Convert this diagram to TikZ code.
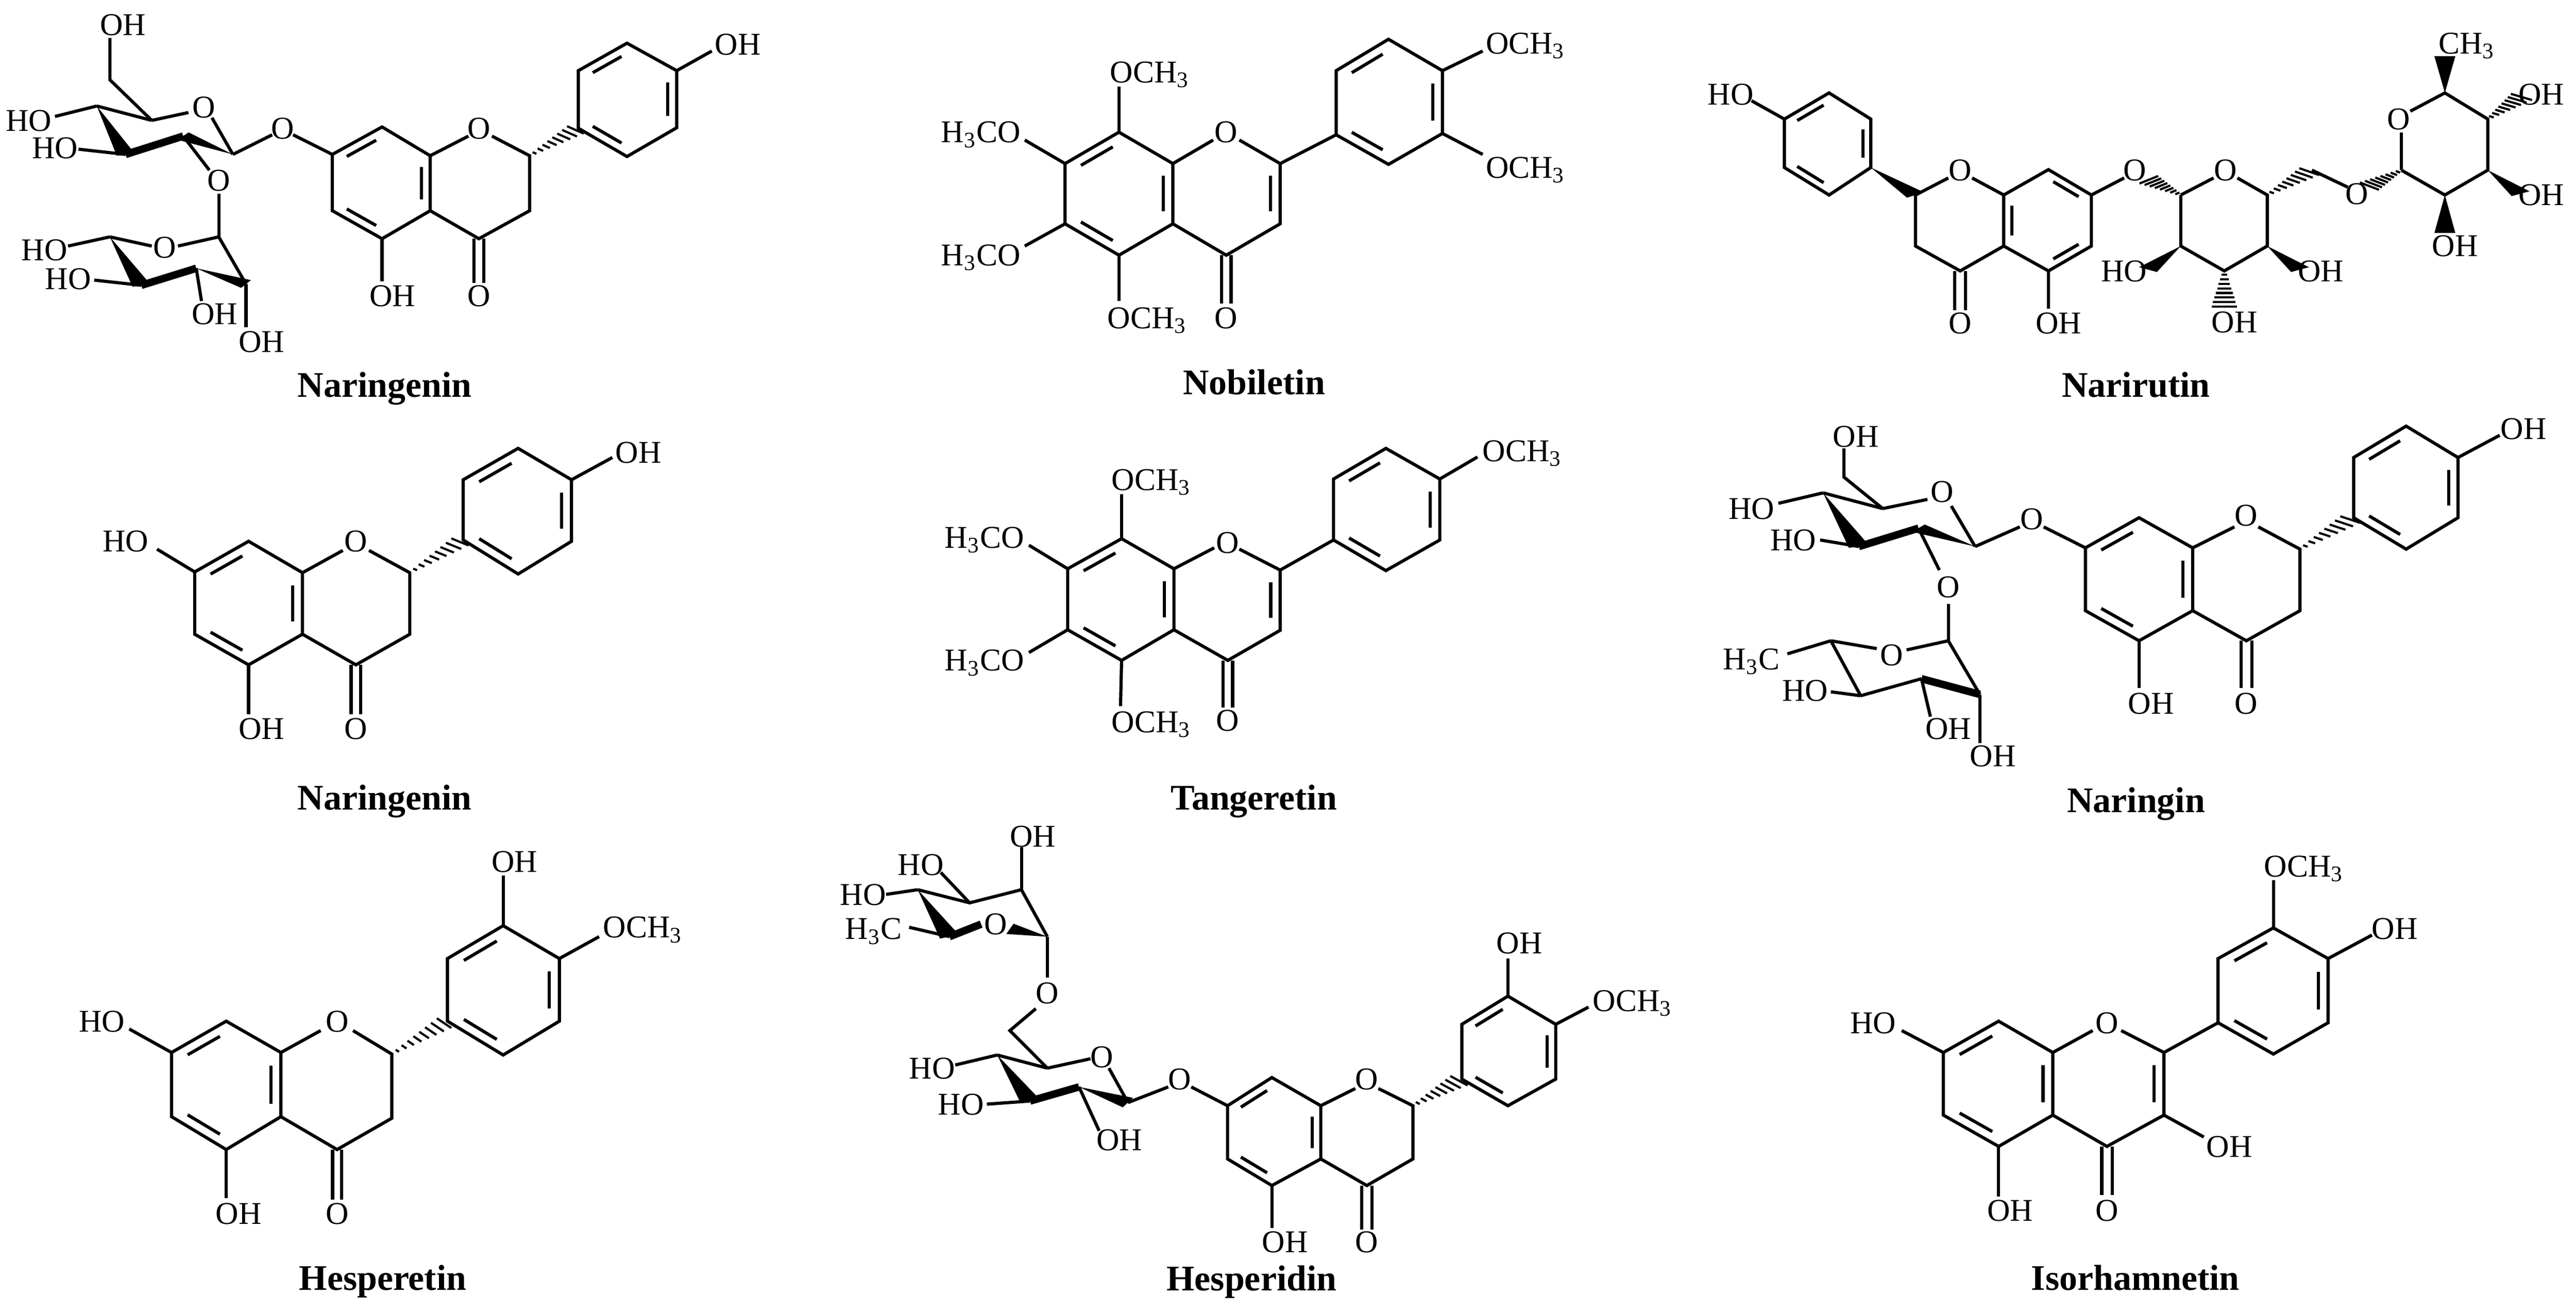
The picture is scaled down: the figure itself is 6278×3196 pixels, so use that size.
\documentclass[tikz,border=0pt]{standalone}
\usepackage{fontspec}
\setmainfont{Liberation Serif}
\usetikzlibrary{calc}
\newcommand\inl[3]{\draw ($($(#1)!0.14!(#2)$)!0.18!(#3)$) -- ($($(#1)!0.86!(#2)$)!0.18!(#3)$);}
\newcommand\hexr[7]{\draw (#1)--(#2)--(#3)--(#4)--(#5)--(#6)--cycle; \inl{#2}{#3}{#7}\inl{#4}{#5}{#7}\inl{#6}{#1}{#7}}
\newcommand\wdg[2]{\fill (#1) -- ($(#2)!2.5pt!90:(#1)$) -- ($(#2)!2.5pt!-90:(#1)$) -- cycle;}
\newcommand\dbl[2]{\draw ($(#1)!1.3pt!90:(#2)$) -- ($(#2)!1.3pt!-90:(#1)$); \draw ($(#1)!1.3pt!-90:(#2)$) -- ($(#2)!1.3pt!90:(#1)$);}
\newcommand\hashb[2]{\foreach \t [evaluate=\t as \hw using 0.4+2.8*\t] in {0.1,0.22,...,1.0}{\draw[line width=0.75pt] ($($(#1)!\t!(#2)$)!\hw pt!90:(#2)$) -- ($($(#1)!\t!(#2)$)!\hw pt!-90:(#2)$);}}
\begin{document}
\begin{tikzpicture}[x=0.005cm,y=-0.005cm,line width=1.1pt,
  lab/.style={inner sep=0pt,font=\fontsize{11}{11}\selectfont,text height=7.3pt,text depth=0pt},
  ttl/.style={inner sep=0pt,font=\fontsize{12.5}{14}\selectfont\bfseries,text height=8.4pt,text depth=0pt},
  bold/.style={line width=2.6pt}]
\useasboundingbox (0,0) rectangle (6278,3196);
\fill[white] (0,0) rectangle (6278,3196);
% ===== M1 Naringenin (glycoside) =====
\begin{scope}[shift={(0,0)},xscale=1.2755,yscale=0.6378]
\hexr{635,805}{635,590}{730,485}{822,595}{822,805}{730,912}{728,700}
\draw (822,595)--(895,520); \node[lab] (o1) at (915,490) {O};
\draw (940,520)--(1012,595)--(1012,805)--(915,912)--(822,805);
\dbl{915,912}{915,1080}; \node[lab] at (915,1130) {O};
\draw (730,912)--(730,1075); \node[lab] at (750,1130) {OH};
\draw (635,590)--(560,515); \node[lab] at (540,490) {O}; \draw (520,515)--(445,590);
\hashb{1012,595}{1105,490}
\hexr{1105,490}{1105,270}{1198,165}{1293,270}{1293,488}{1198,598}{1199,380}
\draw (1293,270)--(1360,195); \node[lab] at (1410,170) {OH};
\node[lab] at (390,410) {O}; \draw (290,460)--(360,430); \draw (405,450)--(445,590);
\wdg{445,590}{350,520} \draw[bold] (350,520)--(240,590); \wdg{185,405}{240,590}
\draw (185,405)--(290,460); \draw (290,460)--(210,305)--(210,145); \node[lab] at (235,95) {OH};
\draw (185,405)--(105,445); \node[lab] at (55,460) {HO};
\draw (240,590)--(150,570); \node[lab] at (105,565) {HO};
\draw (350,520)--(400,650); \node[lab] at (418,690) {O}; \draw (418,740)--(418,905);
\node[lab] at (315,945) {O}; \draw (418,905)--(340,940); \draw (290,940)--(210,905);
\wdg{210,905}{270,1090} \draw[bold] (270,1090)--(375,1025); \wdg{375,1025}{470,1085}
\draw (470,1085)--(418,905);
\draw (210,905)--(130,940); \node[lab] at (85,955) {HO};
\draw (270,1090)--(180,1070); \node[lab] at (130,1065) {HO};
\draw (375,1025)--(385,1150); \node[lab] at (410,1200) {OH};
\draw (470,1085)--(470,1250); \node[lab] at (500,1305) {OH};
\node[ttl] at (735,1470) {Naringenin};
\end{scope}
% ===== M2 Nobiletin =====
\begin{scope}[shift={(2000,0)},xscale=1.2755,yscale=0.6378]
\hexr{467,855}{467,625}{570,505}{673,625}{673,855}{570,975}{570,740}
\draw (673,625)--(750,535); \node[lab] at (775,505) {O};
\draw (800,535)--(878,625)--(878,855)--(775,975)--(673,855); \inl{878,625}{878,855}{775,740}
\dbl{775,975}{775,1160}; \node[lab] at (775,1215) {O};
\draw (570,975)--(570,1150); \node[lab,anchor=west] at (545,1215) {OCH\textsubscript{3}};
\draw (467,855)--(390,940); \node[lab,anchor=east] at (385,975) {H\textsubscript{3}CO};
\draw (467,625)--(390,535); \node[lab,anchor=east] at (385,505) {H\textsubscript{3}CO};
\draw (570,505)--(570,330); \node[lab,anchor=west] at (550,275) {OCH\textsubscript{3}};
\draw (878,625)--(985,515);
\hexr{985,515}{985,270}{1085,150}{1188,270}{1188,510}{1085,628}{1087,390}
\draw (1188,270)--(1265,195); \node[lab,anchor=west] at (1268,165) {OCH\textsubscript{3}};
\draw (1188,510)--(1265,590); \node[lab,anchor=west] at (1268,640) {OCH\textsubscript{3}};
\node[ttl] at (828,1460) {Nobiletin};
\end{scope}
% ===== M3 Narirutin =====
\begin{scope}[shift={(4000,0)},xscale=1.4528,yscale=0.6378]
\hexr{240,640}{240,455}{315,355}{385,455}{385,640}{315,745}{312,550}
\draw (240,455)--(185,385); \node[lab] at (150,360) {HO};
\wdg{385,640}{460,745}
\draw (460,745)--(515,680); \node[lab] at (535,650) {O}; \draw (555,680)--(608,745);
\draw (460,745)--(460,940)--(535,1035)--(608,940);
\dbl{535,1035}{535,1185}; \node[lab] at (535,1235) {O};
\hexr{608,745}{683,648}{755,745}{755,940}{683,1035}{608,940}{682,842}
\draw (683,1035)--(683,1180); \node[lab] at (700,1235) {OH};
\draw (755,745)--(810,680); \node[lab] at (828,650) {O};
\hashb{905,745}{848,683}
\draw (905,745)--(960,680); \node[lab] at (980,650) {O};
\draw (1000,680)--(1050,745)--(1050,940)--(978,1035)--(905,940)--(905,745);
\wdg{905,940}{850,1030} \node[lab] at (810,1035) {HO};
\hashb{978,1035}{978,1180} \node[lab] at (995,1230) {OH};
\wdg{1050,940}{1105,1030} \node[lab] at (1140,1035) {OH};
\hashb{1050,745}{1125,650} \draw (1125,650)--(1185,715); \node[lab] at (1200,740) {O};
\hashb{1275,650}{1218,715}
\draw (1275,650)--(1275,505); \node[lab] at (1270,455) {O};
\draw (1290,425)--(1348,355)--(1420,455)--(1420,650)--(1348,745)--(1275,650);
\wdg{1348,355}{1348,215} \node[lab,anchor=west] at (1335,165) {CH\textsubscript{3}};
\hashb{1420,455}{1480,365} \node[lab] at (1510,360) {OH};
\wdg{1420,650}{1475,740} \node[lab] at (1510,745) {OH};
\wdg{1348,745}{1348,890} \node[lab] at (1365,940) {OH};
\node[ttl] at (830,1470) {Narirutin};
\end{scope}
% ===== M4 Naringenin =====
\begin{scope}[shift={(0,1000)},xscale=1.2755,yscale=0.6378]
\hexr{372,855}{372,617}{475,500}{578,620}{578,855}{475,972}{475,737}
\draw (372,617)--(300,530); \node[lab] at (240,500) {HO};
\draw (578,620)--(655,535); \node[lab] at (680,500) {O};
\draw (705,535)--(783,620)--(783,855)--(680,972)--(578,855);
\dbl{680,972}{680,1160}; \node[lab] at (680,1215) {O};
\draw (475,972)--(475,1160); \node[lab] at (500,1215) {OH};
\hashb{783,620}{885,495}
\hexr{885,495}{885,265}{990,145}{1092,265}{1092,500}{990,625}{988,385}
\draw (1092,265)--(1170,180); \node[lab] at (1220,160) {OH};
\node[ttl] at (735,1480) {Naringenin};
\end{scope}
% ===== M5 Tangeretin =====
\begin{scope}[shift={(2000,1000)},xscale=1.2755,yscale=0.6378]
\hexr{472,838}{472,605}{575,490}{675,605}{675,838}{575,955}{575,722}
\draw (675,605)--(752,525); \node[lab] at (778,505) {O};
\draw (800,530)--(878,610)--(878,840)--(778,955)--(675,838); \inl{878,610}{878,840}{778,722}
\dbl{778,955}{778,1135}; \node[lab] at (778,1185) {O};
\draw (575,955)--(573,1130); \node[lab,anchor=west] at (553,1190) {OCH\textsubscript{3}};
\draw (472,838)--(398,925); \node[lab,anchor=east] at (392,955) {H\textsubscript{3}CO};
\draw (472,605)--(398,515); \node[lab,anchor=east] at (392,485) {H\textsubscript{3}CO};
\draw (575,490)--(575,320); \node[lab,anchor=west] at (553,265) {OCH\textsubscript{3}};
\draw (878,610)--(980,495);
\hexr{980,495}{980,262}{1080,145}{1183,262}{1183,495}{1080,612}{1081,378}
\draw (1183,262)--(1255,178); \node[lab,anchor=west] at (1262,155) {OCH\textsubscript{3}};
\node[ttl] at (828,1480) {Tangeretin};
\end{scope}
% ===== M6 Naringin =====
\begin{scope}[shift={(4000,1000)},xscale=1.4528,yscale=0.6378]
\hexr{745,765}{745,525}{835,410}{925,525}{925,765}{835,880}{835,645}
\draw (745,525)--(675,445); \node[lab] at (655,415) {O}; \draw (635,445)--(560,520);
\draw (925,525)--(995,445); \node[lab] at (1015,400) {O};
\draw (1035,445)--(1105,530)--(1105,765)--(1015,880)--(925,765);
\dbl{1015,880}{1015,1060}; \node[lab] at (1015,1120) {O};
\draw (835,880)--(835,1060); \node[lab] at (855,1120) {OH};
\hashb{1105,530}{1195,410}
\hexr{1195,410}{1195,180}{1283,60}{1370,180}{1370,410}{1283,530}{1283,295}
\draw (1370,180)--(1440,95); \node[lab] at (1480,70) {OH};
\node[lab] at (505,310) {O}; \draw (520,365)--(560,520); \draw (405,375)--(480,340);
\draw (405,375)--(340,255)--(340,145); \node[lab] at (360,100) {OH};
\draw (305,315)--(405,375); \draw (305,315)--(230,355); \node[lab] at (185,375) {HO};
\wdg{305,315}{365,520} \draw[bold] (365,520)--(465,450); \wdg{560,520}{465,450}
\draw (365,520)--(300,495); \node[lab] at (255,495) {HO};
\draw (465,450)--(500,610); \node[lab] at (515,675) {O}; \draw (515,740)--(515,880);
\node[lab] at (420,935) {O}; \draw (515,880)--(445,915); \draw (395,910)--(318,880);
\draw (318,880)--(245,930); \node[lab,anchor=east] at (235,950) {H\textsubscript{3}C};
\draw (318,880)--(368,1090); \draw (368,1090)--(318,1075); \node[lab] at (275,1070) {HO};
\draw (368,1090)--(470,1025); \draw[bold] (470,1025)--(568,1085); \draw (568,1085)--(515,880);
\draw (470,1025)--(485,1170); \node[lab] at (515,1215) {OH};
\draw (568,1085)--(568,1270); \node[lab] at (590,1320) {OH};
\node[ttl] at (830,1490) {Naringin};
\end{scope}
% ===== M7 Hesperetin =====
\begin{scope}[shift={(0,2000)},xscale=1.2117,yscale=0.7628]
\hexr{345,945}{345,740}{455,640}{565,740}{565,945}{455,1050}{455,845}
\draw (345,740)--(260,665); \node[lab] at (205,640) {HO};
\draw (565,740)--(645,670); \node[lab] at (678,640) {O};
\draw (710,670)--(788,745)--(788,950)--(678,1050)--(565,945);
\dbl{678,1050}{678,1210}; \node[lab] at (678,1255) {O};
\draw (455,1050)--(455,1205); \node[lab] at (480,1255) {OH};
\hashb{788,745}{900,640}
\hexr{900,640}{900,440}{1012,335}{1125,440}{1125,640}{1012,748}{1012,540}
\draw (1012,335)--(1012,175); \node[lab] at (1035,130) {OH};
\draw (1125,440)--(1205,370); \node[lab,anchor=west] at (1210,340) {OCH\textsubscript{3}};
\node[ttl] at (770,1460) {Hesperetin};
\end{scope}
% ===== M8 Hesperidin =====
\begin{scope}[shift={(1900,2000)},xscale=1.4031,yscale=0.7628]
\hexr{778,1080}{778,910}{855,820}{940,910}{940,1080}{855,1165}{858,993}
\draw (778,910)--(715,850); \node[lab] at (695,825) {O}; \draw (675,850)--(605,900);
\draw (940,910)--(1000,855); \node[lab] at (1020,825) {O};
\draw (1040,855)--(1100,910)--(1100,1080)--(1020,1165)--(940,1080);
\dbl{1020,1165}{1020,1305}; \node[lab] at (1020,1345) {O};
\draw (855,1165)--(855,1300); \node[lab] at (878,1345) {OH};
\hashb{1100,910}{1185,825}
\hexr{1185,825}{1185,650}{1265,560}{1348,650}{1348,825}{1265,910}{1266,737}
\draw (1265,560)--(1265,440); \node[lab] at (1285,390) {OH};
\draw (1348,650)--(1405,595); \node[lab,anchor=west] at (1410,575) {OCH\textsubscript{3}};
\node[lab] at (560,755) {O}; \draw (572,790)--(605,900); \draw (465,790)--(540,760);
\draw (378,748)--(465,790); \draw (378,748)--(305,780); \node[lab] at (265,790) {HO};
\wdg{378,748}{435,895} \draw[bold] (435,895)--(520,850); \wdg{520,850}{605,900}
\draw (435,895)--(360,905); \node[lab] at (315,905) {HO};
\draw (520,850)--(555,990); \node[lab] at (590,1020) {OH};
\draw (465,790)--(400,670)--(445,600); \node[lab] at (465,550) {O}; \draw (465,500)--(465,370);
\node[lab] at (375,330) {O}; \wdg{465,370}{400,345}
\draw[bold] (350,330)--(295,370);
\draw (295,370)--(225,340); \node[lab,anchor=east] at (215,345) {H\textsubscript{3}C};
\wdg{240,220}{295,370}
\draw (240,220)--(185,235); \node[lab] at (145,235) {HO};
\draw (240,220)--(330,262)--(420,220)--(465,370);
\draw (330,262)--(280,165); \node[lab] at (245,140) {HO};
\draw (420,220)--(420,85); \node[lab] at (440,50) {OH};
\node[ttl] at (820,1462) {Hesperidin};
\end{scope}
% ===== M9 Isorhamnetin =====
\begin{scope}[shift={(4100,2000)},xscale=1.3890,yscale=0.7628]
\hexr{458,940}{458,740}{555,640}{650,740}{650,940}{555,1040}{555,840}
\draw (458,740)--(385,670); \node[lab] at (335,645) {HO};
\draw (650,740)--(720,670); \node[lab] at (745,645) {O};
\draw (770,670)--(845,740)--(845,940)--(745,1040)--(650,940); \inl{845,740}{845,940}{748,840}
\draw (845,940)--(915,1010); \node[lab] at (960,1040) {OH};
\dbl{745,1040}{745,1195}; \node[lab] at (745,1245) {O};
\draw (555,1040)--(555,1200); \node[lab] at (575,1245) {OH};
\draw (845,740)--(940,645);
\hexr{940,645}{940,440}{1037,342}{1133,440}{1133,645}{1037,745}{1037,543}
\draw (1037,342)--(1037,190); \node[lab,anchor=west] at (1018,145) {OCH\textsubscript{3}};
\draw (1133,440)--(1210,365); \node[lab] at (1250,345) {OH};
\node[ttl] at (795,1460) {Isorhamnetin};
\end{scope}
\end{tikzpicture}
\end{document}
